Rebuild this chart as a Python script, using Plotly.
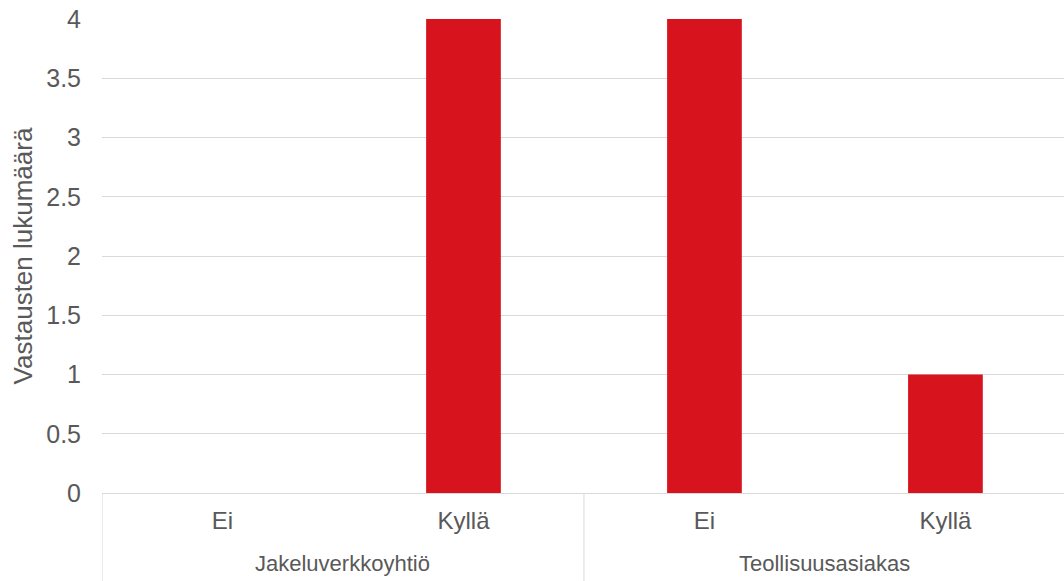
import plotly.graph_objects as go

# Survey response counts by respondent group and answer
groups = ["Jakeluverkkoyhtiö", "Jakeluverkkoyhtiö", "Teollisuusasiakas", "Teollisuusasiakas"]
answers = ["Ei", "Kyllä", "Ei", "Kyllä"]
counts = [0, 4, 4, 1]

y_ticks = [0, 0.5, 1, 1.5, 2, 2.5, 3, 3.5, 4]
y_tick_labels = ["0", "0.5", "1", "1.5", "2", "2.5", "3", "3.5", "4"]

text_color = "#595959"
grid_color = "#d9d9d9"
font_family = "Liberation Sans, Arial, sans-serif"

# one unique category key per bar, labelled with the answer text
keys = [f"{g}|{a}" for g, a in zip(groups, answers)]

fig = go.Figure(
    go.Bar(
        x=keys,
        y=counts,
        marker=dict(color="#d7131e", line=dict(width=0)),
        width=0.31,
    )
)

fig.update_layout(
    width=1064,
    height=581,
    margin=dict(l=102, r=0, t=19, b=88),
    paper_bgcolor="white",
    plot_bgcolor="white",
    showlegend=False,
    font=dict(family=font_family, size=22, color=text_color),
)

fig.update_xaxes(
    type="category",
    range=[-0.5, 3.492],
    tickvals=keys,
    ticktext=answers,
    showgrid=False,
    showline=True,
    linecolor=grid_color,
    linewidth=1,
    ticks="",
    ticklabelstandoff=6,
    tickfont=dict(family=font_family, size=24, color=text_color),
)

fig.update_yaxes(
    range=[0, 4],
    tickvals=y_ticks,
    ticktext=y_tick_labels,
    showgrid=True,
    gridcolor=grid_color,
    gridwidth=1,
    zeroline=False,
    showline=False,
    ticks="",
    ticklabelstandoff=20,
    tickfont=dict(family=font_family, size=25, color=text_color),
    title=dict(text="Vastausten lukumäärä", standoff=6,
               font=dict(family=font_family, size=26, color=text_color)),
)

# group labels centred under their categories, with divider lines between groups
group_names = list(dict.fromkeys(groups))
for name in group_names:
    idx = [i for i, g in enumerate(groups) if g == name]
    fig.add_annotation(
        x=(idx[0] + idx[-1]) / 2, y=-0.1477, xref="x", yref="paper",
        text=name, showarrow=False, yanchor="middle",
        font=dict(family=font_family, size=22, color=text_color),
    )

boundaries = [-0.5] + [i + 0.5 for i in range(len(groups) - 1) if groups[i] != groups[i + 1]] + [len(groups) - 0.5]
for b in boundaries:
    fig.add_shape(
        type="line", xref="x", yref="paper",
        x0=b, x1=b, y0=0, y1=-0.2,
        line=dict(color=grid_color, width=1),
    )

fig.write_html("out.html")
